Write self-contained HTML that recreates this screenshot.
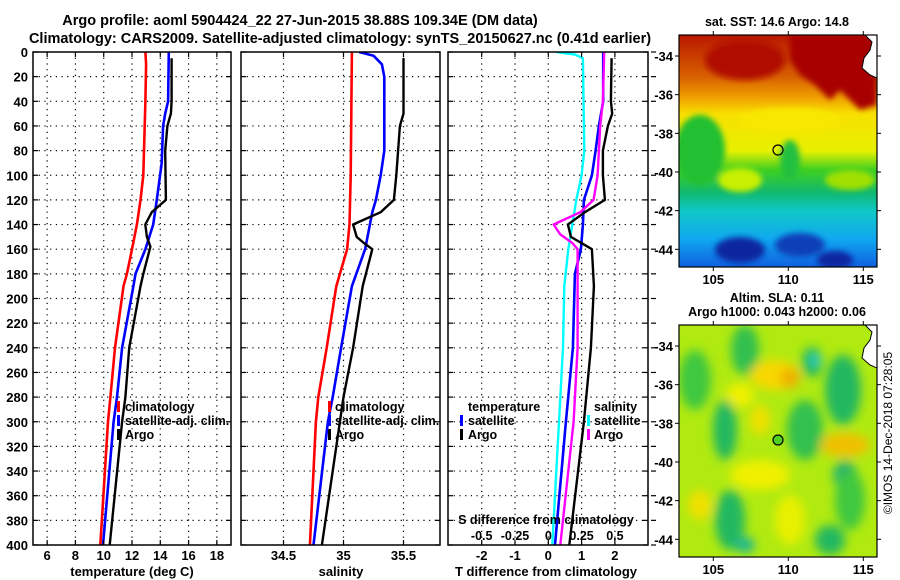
<!DOCTYPE html>
<html><head><meta charset="utf-8"><style>
html,body{margin:0;padding:0;background:#fff;}
svg{display:block;font-family:"Liberation Sans",sans-serif;font-weight:bold;}
</style></head><body>
<svg id="chart" width="900" height="580" viewBox="0 0 900 580" xmlns="http://www.w3.org/2000/svg">
<defs>
<clipPath id="cp1"><rect x="33" y="52" width="198" height="493"/></clipPath>
<clipPath id="cp2"><rect x="241" y="52" width="199" height="493"/></clipPath>
<clipPath id="cp3"><rect x="448" y="52" width="200" height="493"/></clipPath>
<clipPath id="cm1"><rect x="679" y="35" width="198" height="232"/></clipPath>
<clipPath id="cm2"><rect x="679" y="325" width="198" height="232"/></clipPath>
<linearGradient id="sstg" x1="0" y1="0" x2="0" y2="1">
<stop offset="0" stop-color="#b81800"/><stop offset="0.18" stop-color="#d86000"/>
<stop offset="0.27" stop-color="#f0a000"/><stop offset="0.34" stop-color="#f8e000"/>
<stop offset="0.5" stop-color="#e8f000"/><stop offset="0.58" stop-color="#40d020"/>
<stop offset="0.68" stop-color="#10b870"/><stop offset="0.76" stop-color="#10c8c8"/>
<stop offset="0.88" stop-color="#10a8f0"/><stop offset="1" stop-color="#1060e0"/>
</linearGradient>
<filter id="bl" x="-50%" y="-50%" width="200%" height="200%"><feGaussianBlur stdDeviation="5"/></filter>
<filter id="bl2" x="-50%" y="-50%" width="200%" height="200%"><feGaussianBlur stdDeviation="3"/></filter>
</defs>

<text x="300" y="25" font-size="14.5" text-anchor="middle">Argo profile: aoml 5904424_22 27-Jun-2015 38.88S 109.34E (DM data)</text>
<text x="340" y="43" font-size="14.5" text-anchor="middle">Climatology: CARS2009. Satellite-adjusted climatology: synTS_20150627.nc (0.41d earlier)</text>

<g id="grid"></g>
<g id="lines"></g>
<g id="frames"></g>

<g font-size="12.5">
<rect x="117" y="401" width="3" height="11" fill="#f00"/><text x="125" y="411">climatology</text>
<rect x="117" y="415" width="3" height="11" fill="#00f"/><text x="125" y="425">satellite-adj. clim.</text>
<rect x="117" y="429" width="3" height="11" fill="#000"/><text x="125" y="439">Argo</text>
</g>
<g font-size="12.5">
<rect x="328" y="401" width="3" height="11" fill="#f00"/><text x="335" y="411">climatology</text>
<rect x="328" y="415" width="3" height="11" fill="#00f"/><text x="335" y="425">satellite-adj. clim.</text>
<rect x="328" y="429" width="3" height="11" fill="#000"/><text x="335" y="439">Argo</text>
</g>
<g font-size="12.5">
<text x="468" y="411">temperature</text>
<rect x="460" y="415" width="3" height="11" fill="#00f"/><text x="468" y="425">satellite</text>
<rect x="460" y="429" width="3" height="11" fill="#000"/><text x="468" y="439">Argo</text>
<text x="594" y="411">salinity</text>
<rect x="587" y="415" width="3" height="11" fill="#0ff"/><text x="594" y="425">satellite</text>
<rect x="587" y="429" width="3" height="11" fill="#f0f"/><text x="594" y="439">Argo</text>
</g>
<text x="546" y="524" font-size="12.5" text-anchor="middle">S difference from climatology</text>

<text x="132" y="576" font-size="13" text-anchor="middle">temperature (deg C)</text>
<text x="341" y="576" font-size="13" text-anchor="middle">salinity</text>
<text x="546" y="576" font-size="13" text-anchor="middle">T difference from climatology</text>

<text x="777" y="26" font-size="12.5" text-anchor="middle">sat. SST: 14.6 Argo: 14.8</text>
<g clip-path="url(#cm1)">
<rect x="679" y="35" width="198" height="232" fill="url(#sstg)"/>
<g filter="url(#bl2)">
<path d="M790 35 L877 35 L877 105 L860 110 L850 100 L840 90 L830 100 L815 85 L800 75 L790 60 Z" fill="#a80000"/>
<ellipse cx="745" cy="60" rx="40" ry="20" fill="#b00800"/>
<ellipse cx="700" cy="150" rx="25" ry="35" fill="#20c030"/>
<ellipse cx="740" cy="180" rx="22" ry="12" fill="#c8f000"/>
<ellipse cx="850" cy="180" rx="25" ry="10" fill="#a0e000"/>
<ellipse cx="790" cy="160" rx="10" ry="20" fill="#20c040"/>
<ellipse cx="740" cy="250" rx="25" ry="13" fill="#0828a0"/>
<ellipse cx="800" cy="245" rx="25" ry="12" fill="#1040b8"/>
<ellipse cx="835" cy="260" rx="18" ry="9" fill="#0828a0"/>
<ellipse cx="790" cy="120" rx="50" ry="12" fill="#f8e800"/>
</g>
<path d="M865 35 L877 35 L877 78 L870 75 L862 68 L864 58 L870 50 L872 42 Z" fill="#fff" stroke="#000" stroke-width="1"/>
<circle cx="778" cy="150" r="5" fill="none" stroke="#000" stroke-width="1.2"/>
</g>
<rect x="679" y="35" width="198" height="232" fill="none" stroke="#000" stroke-width="1.2"/>

<text x="777" y="302" font-size="12.5" text-anchor="middle">Altim. SLA: 0.11</text>
<text x="777" y="316" font-size="12.5" text-anchor="middle">Argo h1000: 0.043 h2000: 0.06</text>
<g clip-path="url(#cm2)">
<rect x="679" y="325" width="198" height="232" fill="#b0ea10"/>
<g filter="url(#bl)">
<ellipse cx="745" cy="350" rx="14" ry="25" fill="#30c050"/>
<ellipse cx="812" cy="362" rx="10" ry="15" fill="#20b860"/>
<ellipse cx="740" cy="395" rx="14" ry="12" fill="#f0f000"/>
<ellipse cx="775" cy="375" rx="25" ry="15" fill="#f8d800"/>
<ellipse cx="790" cy="378" rx="10" ry="10" fill="#f0b000"/>
<ellipse cx="695" cy="380" rx="16" ry="30" fill="#40c840"/>
<ellipse cx="725" cy="430" rx="12" ry="30" fill="#20b860"/>
<ellipse cx="760" cy="420" rx="10" ry="15" fill="#f0e000"/>
<ellipse cx="805" cy="430" rx="18" ry="30" fill="#30c050"/>
<ellipse cx="843" cy="390" rx="18" ry="35" fill="#20b860"/>
<ellipse cx="845" cy="445" rx="25" ry="12" fill="#f0c000"/>
<ellipse cx="845" cy="475" rx="12" ry="14" fill="#20b070"/>
<ellipse cx="760" cy="475" rx="30" ry="15" fill="#f0f000"/>
<ellipse cx="730" cy="520" rx="15" ry="30" fill="#20b860"/>
<ellipse cx="745" cy="545" rx="10" ry="8" fill="#20b890"/>
<ellipse cx="790" cy="520" rx="15" ry="25" fill="#e8f000"/>
<ellipse cx="830" cy="540" rx="15" ry="15" fill="#20b860"/>
<ellipse cx="815" cy="360" rx="5" ry="6" fill="#30d0d0"/>
<ellipse cx="700" cy="505" rx="12" ry="15" fill="#f0e000"/>
<ellipse cx="850" cy="500" rx="15" ry="30" fill="#40c840"/>
</g>
<path d="M865 325 L877 325 L877 368 L870 365 L862 358 L864 348 L870 340 L872 332 Z" fill="#fff" stroke="#000" stroke-width="1"/>
<circle cx="778" cy="440" r="5" fill="#50d020" stroke="#000" stroke-width="1.2"/>
</g>
<rect x="679" y="325" width="198" height="232" fill="none" stroke="#000" stroke-width="1.2"/>
<g id="mapticks" font-size="13"></g>
<text transform="translate(892,433) rotate(-90)" font-size="12" font-weight="normal" text-anchor="middle">©IMOS 14-Dec-2018 07:28:05</text>
</svg>

<script>
// ---- data ----
const depthTicks = [0,20,40,60,80,100,120,140,160,180,200,220,240,260,280,300,320,340,360,380,400];
const tempTicks = [6,8,10,12,14,16,18];
const salTicks = [34.5,35,35.5];
const tdiffTicks = [-2,-1,0,1,2];
const sdiffTicks = [-0.5,-0.25,0,0.25,0.5];
const sdiffTickLabels = ["-0.5","-0.25","0","0.25","0.5"];

const tClimDepth = [0,10,40,100,120,140,160,180,190,240,280,300,400];
const tClim      = [12.95,13.0,12.95,12.8,12.6,12.35,12.0,11.64,11.4,10.8,10.47,10.3,9.76];
const tSatDepth  = [0,40,50,60,90,120,140,160,180,190,240,280,300,400];
const tSat       = [14.6,14.55,14.35,14.2,14.1,13.75,13.5,12.95,12.25,12.1,11.3,10.94,10.7,9.95];
const tArgoDepth = [5,40,50,60,80,120,130,140,150,158,180,190,240,280,300,400];
const tArgo      = [14.8,14.8,14.75,14.5,14.35,14.4,13.4,12.94,13.05,13.3,12.8,12.6,11.8,11.53,11.3,10.42];

const sClimDepth = [0,100,140,160,190,240,280,300,400];
const sClim      = [35.07,35.06,35.05,35.03,34.94,34.86,34.79,34.77,34.72];
const sSatDepth  = [0,3,10,20,80,100,120,130,160,190,240,280,300,400];
const sSat       = [35.13,35.25,35.32,35.34,35.34,35.31,35.27,35.24,35.18,35.07,34.98,34.91,34.87,34.75];
const sArgoDepth = [5,50,60,100,120,130,140,150,155,160,190,240,280,300,400];
const sArgo      = [35.5,35.5,35.47,35.44,35.42,35.31,35.08,35.11,35.17,35.24,35.16,35.08,35.0,34.97,34.82];

const dTSatDepth = [0,40,60,80,100,120,140,160,180,240,300,400];
const dTSat      = [1.65,1.65,1.52,1.42,1.31,1.07,1.04,0.98,0.8,0.74,0.53,0.2];
const dTArgoDepth = [5,40,50,60,80,100,120,130,140,150,160,190,240,300,400];
const dTArgo      = [1.9,1.88,1.92,1.79,1.64,1.64,1.7,1.1,0.59,0.68,1.31,1.37,1.28,1.07,0.63];
const dSSatDepth = [0,2,5,80,100,120,140,160,190,240,300,400];
const dSSat      = [0.06,0.2,0.26,0.27,0.25,0.21,0.18,0.15,0.12,0.11,0.08,0.03];
const dSArgoDepth = [0,40,60,100,120,130,140,148,155,160,190,240,300,400];
const dSArgo      = [0.42,0.41,0.39,0.37,0.34,0.24,0.04,0.09,0.18,0.22,0.22,0.22,0.19,0.09];

const lonTicks = [105,110,115];
const latTicks = [-34,-36,-38,-40,-42,-44];

// ---- scales ----
const NS = "http://www.w3.org/2000/svg";
const yD = d => 52 + d * (493/400);
const xT = t => 33 + (t - 5) * (198/14);
const xS = s => 343.5 + (s - 35) * 120;
const xDT = v => 548.3 + v * 33.3;
const xDS = v => 548.3 + v * 133.2;
const lonX = lo => 713.3 + (lo - 105) * 15;
const latY1 = la => 56 + (-34 - la) * 19.33;
const latY2 = la => 346 + (-34 - la) * 19.33;

function el(tag, attrs, parent) {
  const e = document.createElementNS(NS, tag);
  for (const k in attrs) e.setAttribute(k, attrs[k]);
  parent.appendChild(e);
  return e;
}
const grid = document.getElementById('grid');
const lines = document.getElementById('lines');
const frames = document.getElementById('frames');

const panels = [
  {x0:33, x1:231, ticks:tempTicks, sx:xT, name:'temperature'},
  {x0:241, x1:440, ticks:salTicks, sx:xS, name:'salinity'},
  {x0:448, x1:648, ticks:tdiffTicks, sx:xDT, name:'difference'}
];
panels.forEach(p => {
  depthTicks.forEach((d,i) => {
    if (i > 0 && i < depthTicks.length-1) {
      const g = el('line', {x1:p.x0, x2:p.x1, y1:yD(d), y2:yD(d), stroke:'#000', 'stroke-width':1.2, 'stroke-dasharray':'1.2,4.5'}, grid);
      
      
    }
    el('line', {x1:p.x0, x2:p.x0+5, y1:yD(d), y2:yD(d), stroke:'#000', 'stroke-width':1.2}, frames);
    el('line', {x1:p.x1-5, x2:p.x1, y1:yD(d), y2:yD(d), stroke:'#000', 'stroke-width':1.2}, frames);
  });
  p.ticks.forEach(t => {
    const x = p.sx(t);
    const g = el('line', {x1:x, x2:x, y1:52, y2:545, stroke:'#000', 'stroke-width':1.2, 'stroke-dasharray':'1.2,4.5'}, grid);
    
    
    el('line', {x1:x, x2:x, y1:52, y2:57, stroke:'#000', 'stroke-width':1.2}, frames);
    el('line', {x1:x, x2:x, y1:540, y2:545, stroke:'#000', 'stroke-width':1.2}, frames);
    const tx = el('text', {x:x, y:560, 'font-size':13, 'text-anchor':'middle'}, frames);
    
    
    tx.textContent = t;
  });
  const fr = el('rect', {x:p.x0, y:52, width:p.x1-p.x0, height:493, fill:'none', stroke:'#000', 'stroke-width':1.5}, frames);
  
  
});
depthTicks.forEach(d => {
  el('line', {x1:651, x2:656, y1:yD(d), y2:yD(d), stroke:'#000', 'stroke-width':1.2}, frames);
});
depthTicks.forEach(d => {
  const tx = el('text', {x:28, y:yD(d)+5, 'font-size':13, 'text-anchor':'end'}, frames);
  
  
  tx.textContent = d;
});
sdiffTicks.forEach((s,i) => {
  const tx = el('text', {x:xDS(s), y:540, 'font-size':12.5, 'text-anchor':'middle'}, frames);
  
  
  tx.textContent = sdiffTickLabels[i];
});

function series(depths, vals, sx, color, w, clip, name) {
  const pts = depths.map((d,i) => sx(vals[i]).toFixed(1) + ',' + yD(d).toFixed(1)).join(' ');
  const pl = el('polyline', {points:pts, fill:'none', stroke:color, 'stroke-width':w, 'stroke-linejoin':'round', 'clip-path':'url(#'+clip+')'}, lines);
  
  
}
series(tClimDepth, tClim, xT, '#f00', 2.6, 'cp1', 'temperature-climatology-line');
series(tSatDepth, tSat, xT, '#00f', 2.6, 'cp1', 'temperature-satellite-line');
series(tArgoDepth, tArgo, xT, '#000', 2.4, 'cp1', 'temperature-argo-line');
series(sClimDepth, sClim, xS, '#f00', 2.6, 'cp2', 'salinity-climatology-line');
series(sSatDepth, sSat, xS, '#00f', 2.6, 'cp2', 'salinity-satellite-line');
series(sArgoDepth, sArgo, xS, '#000', 2.4, 'cp2', 'salinity-argo-line');
series(dSSatDepth, dSSat, xDS, '#0ff', 2.4, 'cp3', 's-diff-satellite-line');
series(dTSatDepth, dTSat, xDT, '#00f', 2.6, 'cp3', 't-diff-satellite-line');
series(dSArgoDepth, dSArgo, xDS, '#f0f', 2.4, 'cp3', 's-diff-argo-line');
series(dTArgoDepth, dTArgo, xDT, '#000', 2.4, 'cp3', 't-diff-argo-line');

const mt = document.getElementById('mapticks');
[[latY1,35,267],[latY2,325,557]].forEach(([ly,top,bot]) => {
  lonTicks.forEach(lo => {
    const x = lonX(lo);
    el('line', {x1:x, x2:x, y1:top-4, y2:top, stroke:'#000'}, mt);
    el('line', {x1:x, x2:x, y1:bot, y2:bot+4, stroke:'#000'}, mt);
    const tx = el('text', {x:x, y:bot+17, 'text-anchor':'middle'}, mt);
    
    
    tx.textContent = lo;
  });
  latTicks.forEach(la => {
    const y = ly(la);
    el('line', {x1:675, x2:679, y1:y, y2:y, stroke:'#000'}, mt);
    el('line', {x1:877, x2:881, y1:y, y2:y, stroke:'#000'}, mt);
    const tx = el('text', {x:673, y:y+5, 'text-anchor':'end'}, mt);
    
    
    tx.textContent = la;
  });
});
</script>
</body></html>
